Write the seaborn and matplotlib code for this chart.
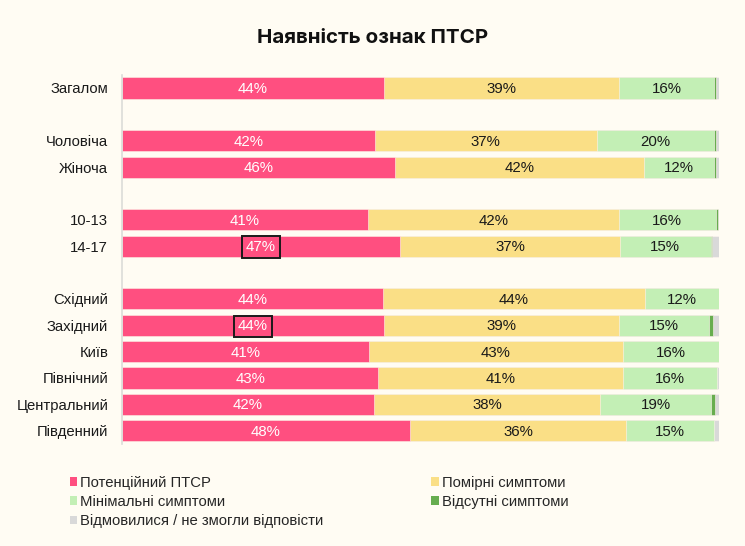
import matplotlib
matplotlib.use("Agg")
import matplotlib.pyplot as plt
from matplotlib.patches import Patch
import numpy as np
import pandas as pd
import seaborn as sns

# rows in display order, blank names make the gaps between groups
order = ['Загалом', '', 'Чоловіча', 'Жіноча', ' ', '10-13', '14-17', '  ',
         'Східний', 'Західний', 'Київ', 'Північний', 'Центральний', 'Південний']
groups = ['Загалом', 'Чоловіча', 'Жіноча', '10-13', '14-17',
          'Східний', 'Західний', 'Київ', 'Північний', 'Центральний', 'Південний']

ptsd = [43.9, 42.4, 45.8, 41.2, 46.6, 43.7, 43.9, 41.3, 42.9, 42.2, 48.2]
moderate = [39.4, 37.1, 41.6, 42.0, 36.8, 43.9, 39.4, 42.6, 41.1, 37.9, 36.3]
minimal = [15.9, 19.6, 11.7, 16.3, 15.2, 12.4, 15.1, 16.1, 15.6, 18.6, 14.7]
absent = [0.3, 0.4, 0.4, 0.3, 0.3, 0.0, 0.6, 0.0, 0.0, 0.7, 0.0]
refused = [0.5, 0.5, 0.5, 0.2, 1.1, 0.0, 1.0, 0.0, 0.4, 0.6, 0.8]

series = ['Потенційний ПТСР', 'Помірні симптоми', 'Мінімальні симптоми',
          'Відсутні симптоми', 'Відмовилися / не змогли відповісти']
colors = ['#ff4f80', '#fadf86', '#c3efb5', '#67ad4f', '#d9d9d9']
label_colors = ['white', '#1a1a1a', '#1a1a1a']
highlight = ['14-17', 'Західний']

bg = '#fffcf3'
sns.set_theme(style='white')
plt.rcParams['font.family'] = ['Liberation Sans', 'DejaVu Sans']

df = pd.DataFrame({'group': groups, 's0': ptsd, 's1': moderate, 's2': minimal,
                   's3': absent, 's4': refused})
cols = ['s0', 's1', 's2', 's3', 's4']
cum = df[cols].cumsum(axis=1)

fig = plt.figure(figsize=(7.45, 5.46), dpi=100, facecolor=bg)
ax = fig.add_axes([0.1638, 0.187, 0.8012, 0.676])
ax.set_facecolor(bg)

# stacked bars: draw cumulative totals from the outermost inwards
for i in range(len(cols) - 1, -1, -1):
    sns.barplot(x=cum[cols[i]], y=df['group'], order=order, color=colors[i],
                orient='h', width=0.8, edgecolor='#fff4f0', linewidth=0.4,
                saturation=1, ax=ax)

ypos = {name: k for k, name in enumerate(order)}
for _, row in df.iterrows():
    left = 0
    for i in range(3):
        val = row[cols[i]]
        kw = {}
        if i == 0 and row['group'] in highlight:
            kw['bbox'] = dict(boxstyle='square,pad=0.25', fc='none', ec='#1a1a1a', lw=1.4)
        ax.text(left + val / 2, ypos[row['group']] + 0.04, f"{round(val)}%", ha='center',
                va='center', fontsize=10.8, color=label_colors[i], **kw)
        left += val

ax.set_xlim(0, 100)
ax.set_ylim(13.5, -0.5)
ax.set_xlabel('')
ax.set_ylabel('')
ax.set_xticks([])
ax.tick_params(axis='y', length=0, pad=10, labelsize=10.7, labelcolor='#1a1a1a')
for s in ['top', 'right', 'bottom']:
    ax.spines[s].set_visible(False)
ax.spines['left'].set_color('#dcdcd8')
ax.spines['left'].set_linewidth(1.2)

fig.text(0.5, 0.93, 'Наявність ознак ПТСР', ha='center', va='center',
         fontsize=14.8, fontweight='bold', family=['Inter', 'DejaVu Sans'], color='#111111')

handle_idx = [0, 2, 4, 1, 3]
handles = [Patch(facecolor=colors[i], edgecolor='none', label=series[i]) for i in handle_idx]
fig.legend(handles=handles, loc='upper left', bbox_to_anchor=(0.094, 0.129), ncol=2,
           frameon=False, fontsize=10.7, handlelength=0.5, handleheight=0.5,
           handletextpad=0.2, columnspacing=7.25, labelspacing=0.36,
           borderaxespad=0, borderpad=0)

fig.savefig('out.png', dpi=100, facecolor=bg)
